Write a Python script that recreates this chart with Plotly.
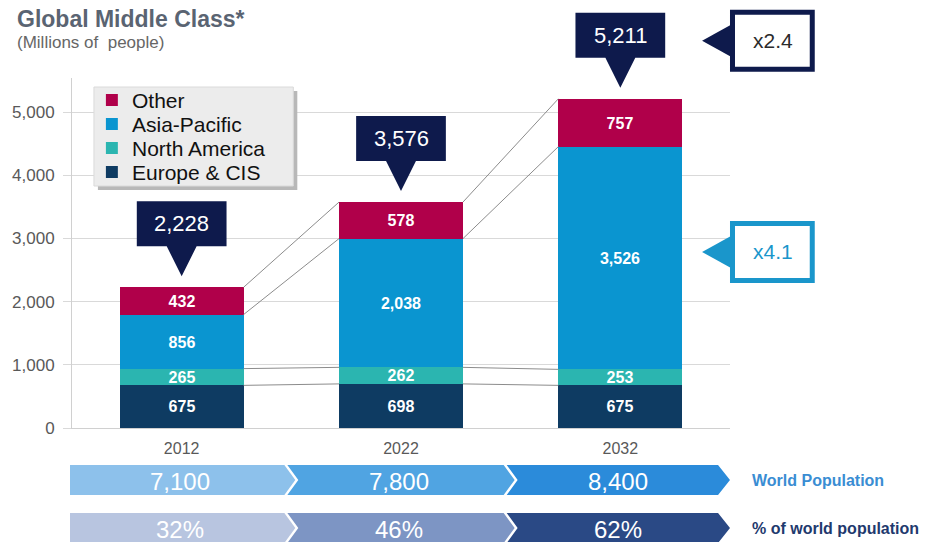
import plotly.graph_objects as go

# ---------------- data ----------------
years = ["2012", "2022", "2032"]
europe_cis = [675, 698, 675]
north_america = [265, 262, 253]
asia_pacific = [856, 2038, 3526]
other = [432, 578, 757]
totals = [2228, 3576, 5211]
world_population = [7100, 7800, 8400]          # millions
share_of_world = [32, 46, 62]                   # % of world population
growth_labels = ["x2.4", "x4.1"]                # total growth, Asia-Pacific growth
y_ticks = [0, 1000, 2000, 3000, 4000, 5000]

series = [
    ("Europe & CIS", europe_cis, "#0E3B62"),
    ("North America", north_america, "#2BB5B0"),
    ("Asia-Pacific", asia_pacific, "#0A95D0"),
    ("Other", other, "#B0004A"),
]

# ---------------- geometry ----------------
W, H = 937, 542
ML, MR, MT, MB = 70, 207, 78, 114
PW, PH = W - ML - MR, H - MT - MB
YMAX = 5540
BAR_W = 0.565
FONT = "Liberation Sans, Arial, sans-serif"
NAVY = "#0E1A4C"
CYAN = "#1A96CB"


def px_x(x):
    return (x - ML) / PW


def px_y(y):
    return (H - MB - y) / PH


def xpx(xd):          # data x -> pixel
    return ML + (xd + 0.5) / len(years) * PW


def ypx(v):           # data y -> pixel
    return (H - MB) - v / YMAX * PH


def path(points):
    pts = [f"{px_x(x):.5f},{px_y(y):.5f}" for x, y in points]
    return "M " + " L ".join(pts) + " Z"


def rect(x0, y0, x1, y1, fill, line_color=None, line_width=0, layer="above"):
    return dict(type="rect", xref="paper", yref="paper", layer=layer,
                x0=px_x(x0), x1=px_x(x1), y0=px_y(y1), y1=px_y(y0),
                line=dict(color=line_color or fill, width=line_width), fillcolor=fill)


def note(x, y, text, size, color, xanchor="center"):
    return dict(xref="paper", yref="paper", x=px_x(x), y=px_y(y), xanchor=xanchor,
                yanchor="middle", text=text, showarrow=False,
                font=dict(color=color, size=size, family=FONT))


fig = go.Figure()
xs = list(range(len(years)))

# connecting lines between the bars (tops of each stacked segment)
cum = [0] * len(years)
levels = []
for name, vals, col in series:
    cum = [c + v for c, v in zip(cum, vals)]
    levels.append(list(cum))
for lvl in levels:
    lx, ly = [], []
    for i in range(len(years) - 1):
        lx += [i + BAR_W / 2, i + 1 - BAR_W / 2, None]
        ly += [lvl[i], lvl[i + 1], None]
    fig.add_trace(go.Scatter(x=lx, y=ly, mode="lines", showlegend=False,
                             line=dict(color="#8C8C8C", width=1), hoverinfo="skip"))

for name, vals, col in series:
    fig.add_trace(go.Bar(
        x=xs, y=vals, name=name, width=BAR_W, marker=dict(color=col, line=dict(width=0)),
        texttemplate="%{y:,}", textposition="inside", insidetextanchor="middle", textangle=0,
        textfont=dict(color="white", size=16, family=FONT, weight="bold"),
        hoverinfo="skip", showlegend=False))

shapes = []
annotations = []

# legend box (with drop shadow), entries listed top-down: Other ... Europe & CIS
shapes.append(rect(96, 91, 296, 190, "#B8B8B8"))
shapes.append(rect(92, 87, 292, 186, "#ECECEC", "#DADADA", 1))
for k, (name, vals, col) in enumerate(reversed(series)):
    cy = 100 + 24 * k
    shapes.append(rect(104, cy - 6, 116, cy + 6, col))
    annotations.append(note(128, cy, name, 21, "#111111", xanchor="left"))

# navy total call-outs above each bar
for i, t in enumerate(totals):
    cx = xpx(i)
    top = ypx(t)
    tip, yb, yt = top - 11, top - 41, top - 86
    shapes.append(dict(type="path", xref="paper", yref="paper", line=dict(width=0),
                       fillcolor=NAVY,
                       path=path([(cx - 45, yb), (cx - 15, yb), (cx, tip), (cx + 15, yb),
                                  (cx + 45, yb), (cx + 45, yt), (cx - 45, yt)])))
    annotations.append(note(cx, (yb + yt) / 2, f"{t:,}", 22, "white"))

# growth call-outs on the right
ap_mid = europe_cis[-1] + north_america[-1] + asia_pacific[-1] / 2
growth_pos = [(ypx(totals[-1]) - 58, NAVY, "#2B2B2B"), (ypx(ap_mid) - 6, CYAN, CYAN)]
for label, (cy, col, tcol) in zip(growth_labels, growth_pos):
    shapes.append(rect(732.5, cy - 28.5, 812.5, cy + 28.5, "white", col, 5))
    shapes.append(dict(type="path", xref="paper", yref="paper", line=dict(width=0),
                       fillcolor=col, path=path([(731, cy - 16), (702, cy), (731, cy + 16)])))
    annotations.append(note(773, cy, label, 21, tcol))

# chevron rows
rows = [
    ([f"{v:,}" for v in world_population], ["#8DC1EB", "#50A4E2", "#2B8BDA"], 465, 495,
     "World Population", "#3A8DD3"),
    ([f"{v}%" for v in share_of_world], ["#B8C5E0", "#7D95C4", "#2A4985"], 513, 543,
     "% of world population", "#1F3A6E"),
]
edges = [xpx(i - 0.5) for i in range(len(years) + 1)]
for texts, cols, y0, y1, lab, labcol in rows:
    ym = (y0 + y1) / 2
    for i, (txt, col) in enumerate(zip(texts, cols)):
        e0, e1 = edges[i], edges[i + 1]
        if i == 0:
            left = [(e0 - 2, y1), (e0 - 2, y0)]
        else:
            left = [(e0 - 4, y1), (e0 + 7, ym), (e0 - 4, y0)]
        if i == len(texts) - 1:
            right = [(e1 - 12, y0), (e1, ym), (e1 - 12, y1)]
        else:
            right = [(e1 - 7, y0), (e1 + 4, ym), (e1 - 7, y1)]
        shapes.append(dict(type="path", xref="paper", yref="paper", line=dict(width=0),
                           fillcolor=col, path=path(left + right)))
        annotations.append(note((e0 + e1) / 2 - 2, ym + 1, txt, 24, "white"))
    annotations.append(note(750, ym, f"<b>{lab}</b>", 16, labcol, xanchor="left"))

# title & subtitle
annotations.append(note(13, 19, "<b>Global Middle Class*</b>", 23, "#5A6472", xanchor="left"))
annotations.append(note(13, 42, "(Millions of  people)", 17, "#666666", xanchor="left"))

fig.update_layout(
    width=W, height=H, margin=dict(l=ML, r=MR, t=MT, b=MB, pad=0),
    paper_bgcolor="white", plot_bgcolor="white",
    barmode="stack", bargap=0,
    uniformtext=dict(minsize=16, mode="show"),
    font=dict(family=FONT, color="#595959"),
    shapes=shapes, annotations=annotations,
    showlegend=False,
    xaxis=dict(range=[-0.5, 2.5], tickvals=xs, ticktext=years, showgrid=False, zeroline=False,
               showline=True, linecolor="#D0D0D0", ticks="outside", ticklen=6,
               tickcolor="rgba(0,0,0,0)", tickfont=dict(size=16, color="#595959"),
               fixedrange=True),
    yaxis=dict(range=[0, YMAX], tickvals=y_ticks, tickformat=",", showgrid=True,
               gridcolor="#D9D9D9", zeroline=False, showline=True, linecolor="#D0D0D0",
               ticks="outside", ticklen=8, tickcolor="#D9D9D9", ticklabelstandoff=5,
               tickfont=dict(size=17, color="#595959"), fixedrange=True),
)

fig.write_html("out.html", post_script="document.body.style.margin='0';",
               config={"displayModeBar": False})
